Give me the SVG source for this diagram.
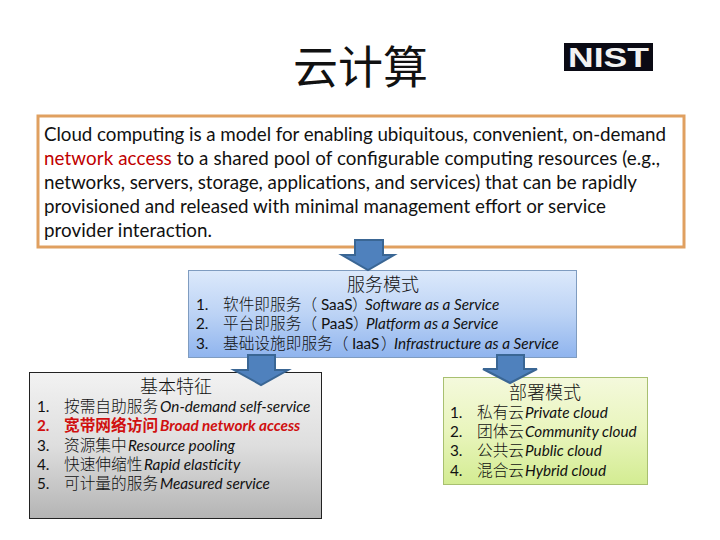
<svg xmlns="http://www.w3.org/2000/svg" width="720" height="540" viewBox="0 0 720 540">
<style>
text{font-family:"Lato","Noto Sans CJK SC",sans-serif;fill:#111}
.def{font-size:18.8px}
.head{font-size:18px;font-family:"Noto Sans CJK SC",sans-serif;font-weight:300;text-anchor:middle}
.it{font-size:15.3px}
.it tspan.e{font-style:italic}
.cn{font-family:"Noto Sans CJK SC",sans-serif;font-weight:300;font-size:15.7px}
.red,.red tspan{fill:#d01010;font-weight:700}
.arrow{fill:#4f81bd;stroke:#3a6694;stroke-width:2}
</style>
<defs>
<linearGradient id="b" x1="0" y1="0" x2="0" y2="1"><stop offset="0" stop-color="#dce9fb"/><stop offset="0.5" stop-color="#bcd3f5"/><stop offset="1" stop-color="#8fb4ee"/></linearGradient>
<linearGradient id="g" x1="0" y1="0" x2="0" y2="1"><stop offset="0" stop-color="#f2f2f2"/><stop offset="0.5" stop-color="#dedede"/><stop offset="1" stop-color="#b4b4b4"/></linearGradient>
<linearGradient id="l" x1="0" y1="0" x2="0" y2="1"><stop offset="0" stop-color="#f4f9dc"/><stop offset="0.5" stop-color="#e9f5bd"/><stop offset="1" stop-color="#d3ec92"/></linearGradient>
</defs>
<g id="title"><text x="360.500" y="84" font-size="45" text-anchor="middle" style="font-family:'Noto Sans CJK SC',sans-serif;font-weight:400">云计算</text></g>
<g id="logo"><rect x="564" y="43" width="89" height="28" fill="#0a0a14"/><text x="608.500" y="66.500" font-size="27" font-weight="700" text-anchor="middle" textLength="81" lengthAdjust="spacingAndGlyphs" style="fill:#f2f2f2;font-family:'Liberation Sans',sans-serif">NIST</text></g>
<g id="definition">
<rect x="38" y="116" width="646" height="131" fill="#fff" stroke="#e0a060" stroke-width="3"/>
<text class="def" x="44" y="141" textLength="622">Cloud computing is a model for enabling ubiquitous, convenient, on-demand</text>
<text class="def" x="44" y="165" textLength="616"><tspan style="fill:#c00000">network access</tspan> to a shared pool of configurable computing resources (e.g.,</text>
<text class="def" x="44" y="189" textLength="593">networks, servers, storage, applications, and services) that can be rapidly</text>
<text class="def" x="44" y="213" textLength="562">provisioned and released with minimal management effort or service</text>
<text class="def" x="44" y="237" textLength="168">provider interaction.</text>
</g>
<g id="service-models">
<rect x="188.500" y="270.500" width="388" height="87" fill="url(#b)" stroke="#7f9cc0"/>
<text class="head" x="383" y="291">服务模式</text>
<text class="it" x="196" y="310"><tspan>1.</tspan><tspan x="223" class="cn">软件即服务（</tspan><tspan x="317"> SaaS </tspan><tspan class="cn" x="352">）</tspan><tspan x="365" class="e">Software as a Service</tspan></text>
<text class="it" x="196" y="329"><tspan>2.</tspan><tspan x="223" class="cn">平台即服务（</tspan><tspan x="317"> PaaS </tspan><tspan class="cn" x="353">）</tspan><tspan x="366" class="e">Platform as a Service</tspan></text>
<text class="it" x="196" y="349"><tspan>3.</tspan><tspan x="223" class="cn">基础设施即服务（</tspan><tspan x="348"> IaaS </tspan><tspan class="cn" x="381">）</tspan><tspan x="394" class="e">Infrastructure as a Service</tspan></text>
</g>
<g id="essential">
<rect x="29.500" y="372.500" width="292" height="146" fill="url(#g)" stroke="#222"/>
<text class="it" x="37" y="412"><tspan>1.</tspan><tspan x="64" class="cn">按需自助服务</tspan><tspan class="e" x="160">On-demand self-service</tspan></text>
<text class="it red" x="37" y="431"><tspan>2.</tspan><tspan x="64" class="cn">宽带网络访问</tspan><tspan class="e" x="160">Broad network access</tspan></text>
<text class="it" x="37" y="451"><tspan>3.</tspan><tspan x="64" class="cn">资源集中</tspan><tspan class="e" x="128">Resource pooling</tspan></text>
<text class="it" x="37" y="470"><tspan>4.</tspan><tspan x="64" class="cn">快速伸缩性</tspan><tspan class="e" x="144">Rapid elasticity</tspan></text>
<text class="it" x="37" y="489"><tspan>5.</tspan><tspan x="64" class="cn">可计量的服务</tspan><tspan class="e" x="160">Measured service</tspan></text>
</g>
<g id="deployment">
<rect x="443.500" y="377.500" width="204" height="107" fill="url(#l)" stroke="#a8c070"/>
<text class="it" x="450" y="418"><tspan>1.</tspan><tspan x="477" class="cn">私有云</tspan><tspan class="e" x="525">Private cloud</tspan></text>
<text class="it" x="450" y="437"><tspan>2.</tspan><tspan x="477" class="cn">团体云</tspan><tspan class="e" x="525">Community cloud</tspan></text>
<text class="it" x="450" y="456"><tspan>3.</tspan><tspan x="477" class="cn">公共云</tspan><tspan class="e" x="525">Public cloud</tspan></text>
<text class="it" x="450" y="476"><tspan>4.</tspan><tspan x="477" class="cn">混合云</tspan><tspan class="e" x="525">Hybrid cloud</tspan></text>
</g>
<g id="connectors">
<path class="arrow" d="M355 240H383V255H394L368 270L342 255H355Z"/>
<path class="arrow" d="M248 355H275V370H288L261 385L234 370H248Z"/>
<path class="arrow" d="M497 355H524V369H537L510 383L483 369H497Z"/>
</g>
<text class="head" x="176" y="393">基本特征</text>
<text class="head" x="545" y="399">部署模式</text>
</svg>
